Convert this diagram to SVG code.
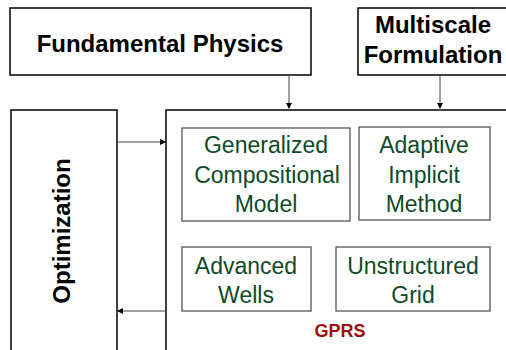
<svg xmlns="http://www.w3.org/2000/svg" width="506" height="350" viewBox="0 0 506 350">
<defs>
<style>
.outer{fill:#fff;stroke:#000;stroke-width:1.5}
.inner{fill:#fff;stroke:#555;stroke-width:1.3}
.bt{font-family:"Liberation Sans",Arial,sans-serif;font-weight:bold;font-size:24px;fill:#000;text-anchor:middle}
.gt{font-family:"Liberation Sans",Arial,sans-serif;font-size:23px;fill:#0f4a28;text-anchor:middle}
.conn{stroke:#444;stroke-width:1;fill:none}
</style>
<marker id="ah" markerWidth="6" markerHeight="6" refX="5" refY="3" orient="auto" markerUnits="userSpaceOnUse">
<path d="M0,0 L6,3 L0,6 z" fill="#000"/>
</marker>
</defs>
<rect width="506" height="350" fill="#fff"/>
<g id="fundamental-physics">
<rect class="outer" x="10" y="8" width="301" height="67"/>
<text class="bt" x="160" y="52">Fundamental Physics</text>
</g>
<g id="multiscale">
<rect class="outer" x="358" y="8" width="160" height="67" stroke-width="2"/>
<text class="bt" x="433" y="33" font-size="23.5">Multiscale</text>
<text class="bt" x="433" y="63" font-size="23.5">Formulation</text>
</g>
<g id="optimization">
<rect class="outer" x="11" y="110" width="106" height="260"/>
<text class="bt" transform="translate(70,231) rotate(-90)">Optimization</text>
</g>
<g id="gprs">
<rect class="outer" x="166" y="110" width="360" height="260" stroke-width="2"/>
<text x="340" y="337" font-family="Liberation Sans,Arial,sans-serif" font-weight="bold" font-size="18" fill="#9b1111" text-anchor="middle">GPRS</text>
</g>
<g id="gcm">
<rect class="inner" x="182" y="128" width="168" height="93"/>
<text class="gt" x="266" y="153">Generalized</text>
<text class="gt" x="267" y="183">Compositional</text>
<text class="gt" x="266" y="212">Model</text>
</g>
<g id="aim">
<rect class="inner" x="359" y="127" width="131" height="93"/>
<text class="gt" x="424" y="153">Adaptive</text>
<text class="gt" x="424" y="183">Implicit</text>
<text class="gt" x="424" y="212">Method</text>
</g>
<g id="wells">
<rect class="inner" x="182" y="247" width="129" height="64"/>
<text class="gt" x="246" y="274">Advanced</text>
<text class="gt" x="246" y="303">Wells</text>
</g>
<g id="grid">
<rect class="inner" x="336" y="247" width="154" height="64"/>
<text class="gt" x="413" y="274">Unstructured</text>
<text class="gt" x="413" y="303">Grid</text>
</g>
<g id="connectors">
<line class="conn" x1="289" y1="75" x2="289" y2="108" marker-end="url(#ah)"/>
<line class="conn" x1="440" y1="75" x2="440" y2="108" stroke="#999" marker-end="url(#ah)"/>
<line class="conn" x1="117" y1="142" x2="165" y2="142" stroke="#999" marker-end="url(#ah)"/>
<line class="conn" x1="166" y1="311" x2="118" y2="311" marker-end="url(#ah)"/>
</g>
</svg>
